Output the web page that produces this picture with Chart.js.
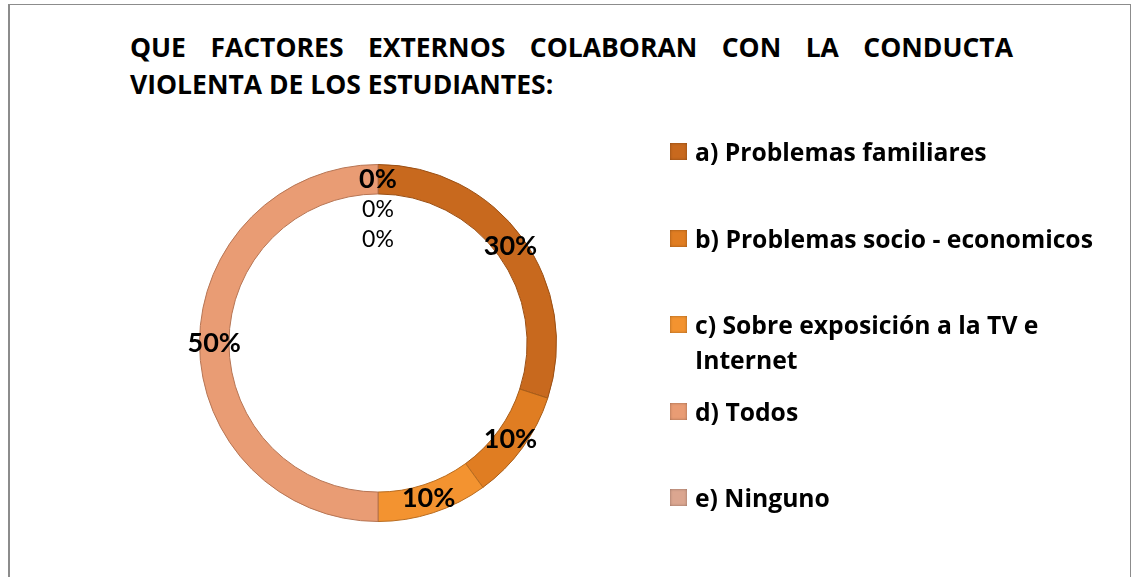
<!DOCTYPE html>
<html>
<head>
<meta charset="utf-8">
<script src="https://cdn.jsdelivr.net/npm/chart.js@4"></script>
<style>
  body { margin: 0; background: #fff; font-family: "Open Sans", Lato, sans-serif; }
  #wrap { position: relative; width: 1134px; height: 577px; overflow: hidden; }
  #frame { position: absolute; left: 8px; top: 4px; width: 1120px; height: 620px;
           border: 1px solid #8c8c8c; border-left-width: 2px; }
  #titulo { position: absolute; left: 130px; top: 29px; width: 883px; font-weight: bold;
            font-size: 26.5px; line-height: 37px; color: #000; }
  #titulo .l1 { text-align: justify; text-align-last: justify; }
  #leyenda { position: absolute; left: 670px; top: 134px; width: 460px; }
  .item { height: 86.5px; display: flex; align-items: flex-start; }
  .caja { width: 17px; height: 17px; flex: none; margin-top: 9px; margin-right: 8px;
          box-shadow: inset 0 0 3px rgba(0,0,0,0.35); }
  .txt { font-weight: bold; font-size: 24.7px; line-height: 35px; color: #000; width: 420px; }
  canvas { position: absolute; left: 0; top: 0; }
</style>
</head>
<body>
<div id="wrap">
  <div id="frame"></div>
  <div id="titulo">
    <div class="l1">QUE FACTORES EXTERNOS COLABORAN CON LA CONDUCTA</div>
    <div>VIOLENTA DE LOS ESTUDIANTES:</div>
  </div>
  <canvas id="grafico" width="1134" height="577"></canvas>
  <div id="leyenda"></div>
</div>
<script>
// ===== DATOS =====
const categorias = [
  "a) Problemas familiares",
  "b) Problemas socio - economicos",
  "c) Sobre exposición a la TV e Internet",
  "d) Todos",
  "e) Ninguno",
  "",
  ""
];
const porcentajes = [30, 10, 10, 50, 0, 0, 0];
const colores = ["#c8691e", "#e07d22", "#f39330", "#e99c74", "#dba690", "#d9b3a0", "#d9b3a0"];
const bordes = ["#9a4f14", "#a85d18", "#b86c20", "#b67554", "#a8806e", "#a8806e", "#a8806e"];
const nombrados = 5;

// ===== ETIQUETAS =====
const etiquetas = {
  id: "etiquetas",
  afterDatasetsDraw(chart) {
    const ctx = chart.ctx;
    const meta = chart.getDatasetMeta(0);
    let ceros = 0;
    ctx.save();
    ctx.fillStyle = "#000";
    ctx.textAlign = "center";
    ctx.textBaseline = "middle";
    meta.data.forEach((arc, i) => {
      const p = arc.getProps(["x", "y", "startAngle", "endAngle", "innerRadius", "outerRadius"], true);
      const ang = (p.startAngle + p.endAngle) / 2;
      const r = (p.innerRadius + p.outerRadius) / 2;
      let x = p.x + Math.cos(ang) * r;
      let y = p.y + Math.sin(ang) * r;
      if (porcentajes[i] === 0) {
        y += ceros * 30;
        ceros++;
      }
      ctx.font = i < nombrados ? "bold 27px Lato" : "23px Lato";
      ctx.fillText(porcentajes[i] + "%", x, y);
    });
    ctx.restore();
  }
};

const chart = new Chart(document.getElementById("grafico"), {
  type: "doughnut",
  data: {
    labels: categorias,
    datasets: [{
      data: porcentajes,
      backgroundColor: colores,
      borderColor: bordes,
      borderWidth: 1
    }]
  },
  options: {
    responsive: false,
    animation: false,
    cutout: "83.5%",
    layout: { padding: { left: 199, right: 577, top: 164, bottom: 55 } },
    plugins: {
      legend: { display: false },
      title: { display: false },
      tooltip: { enabled: false }
    }
  },
  plugins: [etiquetas]
});

// ===== LEYENDA =====
const leyenda = document.getElementById("leyenda");
categorias.slice(0, nombrados).forEach((c, i) => {
  const item = document.createElement("div");
  item.className = "item";
  const caja = document.createElement("div");
  caja.className = "caja";
  caja.style.background = colores[i];
  const txt = document.createElement("div");
  txt.className = "txt";
  txt.textContent = c;
  item.appendChild(caja);
  item.appendChild(txt);
  leyenda.appendChild(item);
});
</script>
</body>
</html>
